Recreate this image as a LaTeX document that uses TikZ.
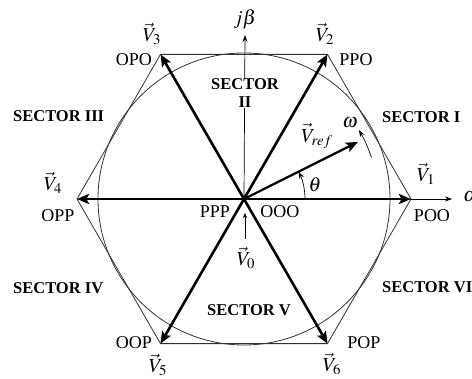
\documentclass[tikz,border=0pt]{standalone}
\usepackage{mathptmx}
\usepackage{fontspec}
\setmainfont{Liberation Serif}
\usetikzlibrary{arrows.meta}

\begin{document}
\begin{tikzpicture}[x=1pt, y=1pt,
    vec/.style={line width=2.6pt, -{Stealth[length=12pt, width=10pt, inset=2.5pt]}},
    thinarrow/.style={line width=0.7pt, -{Stealth[length=7pt, width=5pt]}},
    frame/.style={line width=0.8pt, draw=black!80},
    state/.style={font=\fontsize{18}{20}\selectfont, inner sep=0pt},
    vlabel/.style={font=\fontsize{20}{22}\selectfont, inner sep=0pt},
    sector/.style={font=\fontsize{16.5}{18}\selectfont\bfseries, align=center, inner sep=0pt}]
  \useasboundingbox (-244, -180) rectangle (228, 199);

  \coordinate (O) at (0, 0);
  \foreach \k in {1,...,6}
    \coordinate (P\k) at ({(\k-1)*60}:167);

  % hexagon and inscribed circle
  \draw[frame] (P1) -- (P2) -- (P3) -- (P4) -- (P5) -- (P6) -- cycle;
  \draw[frame] (O) circle [radius=146];

  % axes
  \coordinate (Aend) at (208, 0);
  \coordinate (Bend) at (1, 164);
  \draw[thinarrow] (O) -- (Aend);
  \draw[thinarrow] (O) -- (Bend);
  \node[vlabel, anchor=west] (alpha) at (219, 2) {$\alpha$};
  \node[vlabel] (jbeta) at (1, 180) {$j\beta$};

  % active vectors
  \foreach \k in {1,...,6}
    \draw[vec] (O) -- (P\k);

  % reference vector
  \coordinate (Vr) at (26.6:127.5);
  \draw[vec, line width=2.2pt] (O) -- (Vr);
  \node[vlabel] (vref) at (73, 63) {$\vec{V}_{ref}$};

  \coordinate (T0) at (61, 0);
  \draw[thinarrow] (T0) arc [start angle=0, end angle=26.6, radius=61];
  \node[vlabel] (theta) at (71, 14) {$\theta$};

  \coordinate (W0) at (18:134);
  \draw[thinarrow] (W0) arc [start angle=18, end angle=31, radius=134];
  \node[vlabel] (omega) at (106, 76) {$\omega$};

  % vector labels and switching states
  \node[vlabel] (v1) at (182, 25) {$\vec{V}_1$};
  \node[state] (s1) at (188, -17) {POO};
  \node[vlabel] (v2) at (81, 165) {$\vec{V}_2$};
  \node[state] (s2) at (112, 139) {PPO};
  \node[vlabel] (v3) at (-92, 165) {$\vec{V}_3$};
  \node[state] (s3) at (-110, 139) {OPO};
  \node[vlabel] (v4) at (-191, 16) {$\vec{V}_4$};
  \node[state] (s4) at (-186, -17) {OPP};
  \node[vlabel] (v5) at (-86, -166) {$\vec{V}_5$};
  \node[state] (s5) at (-110, -144) {OOP};
  \node[vlabel] (v6) at (88, -165) {$\vec{V}_6$};
  \node[state] (s6) at (120, -144) {POP};

  % zero vector
  \node[state] (s0a) at (-29, -13) {PPP};
  \node[state] (s0b) at (36, -13) {OOO};
  \node[vlabel] (v0) at (2, -59) {$\vec{V}_0$};
  \coordinate (Z0) at (1, -40);
  \coordinate (Z1) at (1, -14);
  \draw[thinarrow, line width=0.5pt, -{Stealth[length=5pt, width=4pt]}] (Z0) -- (Z1);

  % sectors
  \node[sector, anchor=west] (sec1) at (138, 82) {SECTOR I};
  \node[sector, fill=white, inner sep=1pt] (sec2) at (1, 106) {SECTOR\\II};
  \node[sector, anchor=west] (sec3) at (-231, 83) {SECTOR III};
  \node[sector, anchor=west] (sec4) at (-231, -89) {SECTOR IV};
  \node[sector] (sec5) at (5, -111) {SECTOR V};
  \node[sector, anchor=west] (sec6) at (138, -88) {SECTOR VI};
\end{tikzpicture}
\end{document}
